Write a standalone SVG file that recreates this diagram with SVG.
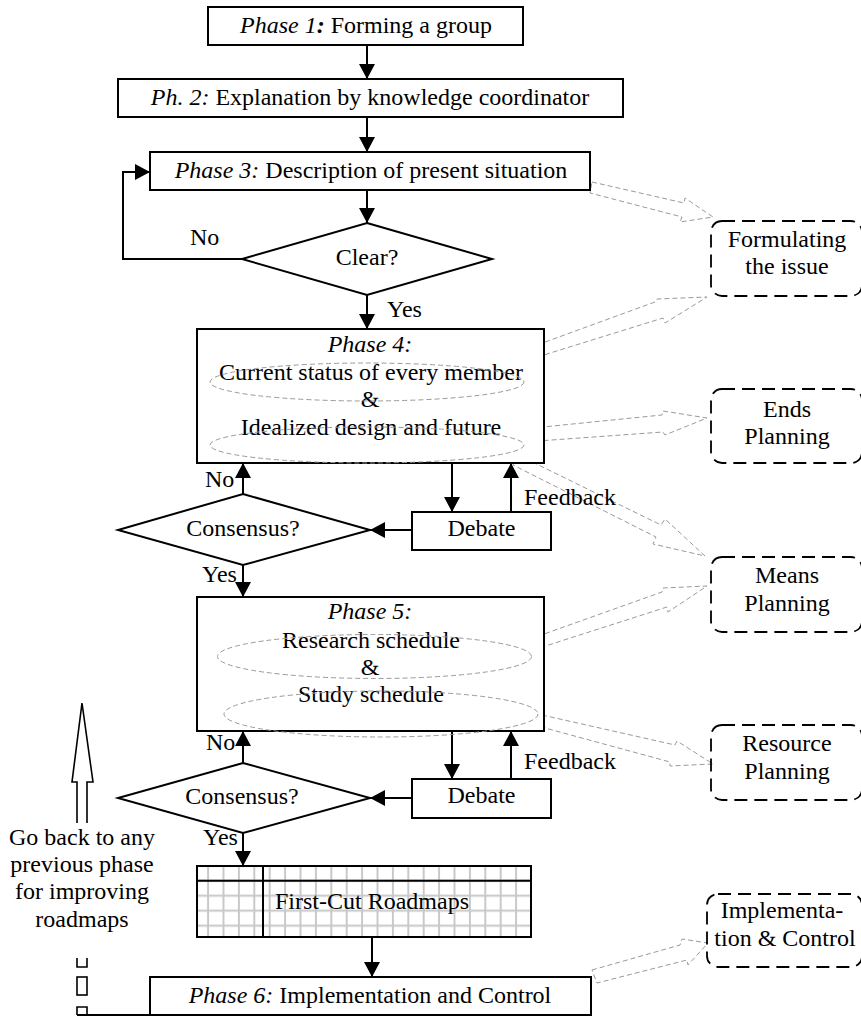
<svg xmlns="http://www.w3.org/2000/svg" width="861" height="1016" viewBox="0 0 861 1016">
<style>
.box{fill:#fff;stroke:#000;stroke-width:2}
.t{font-family:"Liberation Serif","Times New Roman",serif;font-size:24px;fill:#000}
.m{text-anchor:middle}
.i{font-style:italic}
.conn{stroke:#000;stroke-width:2;fill:none}
.ell{fill:none;stroke:#9a9a9a;stroke-width:1;stroke-dasharray:5 3}
.ha{fill:none;stroke:#9a9a9a;stroke-width:1;stroke-dasharray:5 3}
.db{fill:none;stroke:#000;stroke-width:1.8;stroke-dasharray:13 7}
.hollow{fill:none;stroke:#000;stroke-width:1.6}
</style>
<defs>
<marker id="ah" markerUnits="userSpaceOnUse" markerWidth="16" markerHeight="16" refX="15" refY="8" orient="auto">
<path d="M0,0 L15,8 L0,16 Z" fill="#000"/>
</marker>
<pattern id="grid" x="200.4" y="888.2" width="15.4" height="15" patternUnits="userSpaceOnUse">
<path d="M7.7,0V15M0,7.5H15.4" stroke="#c8c8c8" stroke-width="2" fill="none"/>
</pattern>
</defs>

<g id="connectors">
<path class="conn" marker-end="url(#ah)" d="M367,45V79"/>
<path class="conn" marker-end="url(#ah)" d="M367,117V152"/>
<path class="conn" marker-end="url(#ah)" d="M367,190V223"/>
<path class="conn" marker-end="url(#ah)" d="M242,259H123V172H150"/>
<path class="conn" marker-end="url(#ah)" d="M367,295V329"/>
<path class="conn" marker-end="url(#ah)" d="M452,463V512"/>
<path class="conn" marker-end="url(#ah)" d="M511,512V463"/>
<path class="conn" marker-end="url(#ah)" d="M412,530H370"/>
<path class="conn" marker-end="url(#ah)" d="M243,494V463"/>
<path class="conn" marker-end="url(#ah)" d="M243,565V597"/>
<path class="conn" marker-end="url(#ah)" d="M452,731V779"/>
<path class="conn" marker-end="url(#ah)" d="M511,779V731"/>
<path class="conn" marker-end="url(#ah)" d="M412,798H370"/>
<path class="conn" marker-end="url(#ah)" d="M243,763V731"/>
<path class="conn" marker-end="url(#ah)" d="M243,833V866"/>
<path class="conn" marker-end="url(#ah)" d="M372,937V977"/>
<!-- hollow block arrows (dashed grey) -->
<polygon class="ha" points="592,182 684,203 685,198 713,217 680,222 682,217 590,193"/>
<polygon class="ha" points="515,353 655,302 657,299 707,297 665,323 663,318 518,363"/>
<polygon class="ha" points="523,429 662,415 663,411 707,418 665,435 663,432 524,442"/>
<polygon class="ha" points="518,455 661,525 665,519 705,556 653,544 656,537 513,465"/>
<polygon class="ha" points="530,639 662,592 663,588 707,586 668,612 667,607 533,650"/>
<polygon class="ha" points="542,715 675,745 677,741 713,764 670,766 670,762 545,728"/>
<polygon class="ha" points="592,970 680,945 682,939 708,943 688,965 687,960 597,983"/>
<!-- go back arrow -->
<path class="hollow" d="M77,823V782H72L82,703L93,782H87V823"/>
<path class="hollow" d="M77,958V967H87V958"/>
<rect class="hollow" x="77" y="977" width="10" height="18"/>
<path class="hollow" d="M77,1015V1007H87V1015"/>
<path class="conn" d="M77,1015H150"/>
</g>

<g id="phase1">
<rect class="box" x="208" y="7" width="315" height="38"/>
<text class="t m" x="366" y="33"><tspan class="i">Phase 1<tspan font-weight="bold">:</tspan></tspan> Forming a group</text>
</g>
<g id="phase2">
<rect class="box" x="118" y="79" width="505" height="38"/>
<text class="t m" x="370" y="105"><tspan class="i">Ph. 2:</tspan> Explanation by knowledge coordinator</text>
</g>
<g id="phase3">
<rect class="box" x="150" y="152" width="440" height="38"/>
<text class="t m" x="371" y="178"><tspan class="i">Phase 3:</tspan> Description of present situation</text>
</g>
<g id="clear">
<polygon class="box" points="367,223 492,259 367,295 242,259"/>
<text class="t m" x="367" y="265">Clear?</text>
<text class="t" x="190" y="245">No</text>
<text class="t" x="387" y="317">Yes</text>
</g>
<g id="phase4">
<rect class="box" x="197" y="329" width="347" height="134"/>
<text class="t m i" x="370" y="352">Phase 4:</text>
<text class="t m" x="371" y="380">Current status of every member</text>
<text class="t m" x="370" y="407">&amp;</text>
<text class="t m" x="371" y="435">Idealized design and future</text>
<ellipse class="ell" cx="367" cy="382" rx="157" ry="19"/>
<ellipse class="ell" cx="367" cy="445" rx="157" ry="18"/>
</g>
<g id="consensus1">
<polygon class="box" points="243,494 370,530 243,565 118,530"/>
<text class="t m" x="243" y="536">Consensus?</text>
<text class="t" x="205" y="487">No</text>
<text class="t" x="202" y="582">Yes</text>
</g>
<g id="debate1">
<rect class="box" x="412" y="512" width="139" height="38"/>
<text class="t m" x="481.5" y="536">Debate</text>
<text class="t" x="524" y="505">Feedback</text>
</g>
<g id="phase5">
<rect class="box" x="197" y="597" width="347" height="134"/>
<text class="t m i" x="370" y="619">Phase 5:</text>
<text class="t m" x="371" y="648">Research schedule</text>
<text class="t m" x="370" y="675">&amp;</text>
<text class="t m" x="371" y="702">Study schedule</text>
<ellipse class="ell" cx="374.5" cy="656.5" rx="157" ry="22"/>
<ellipse class="ell" cx="381" cy="714" rx="157" ry="23"/>
</g>
<g id="consensus2">
<polygon class="box" points="243,763 370,798 243,833 118,798"/>
<text class="t m" x="242" y="804">Consensus?</text>
<text class="t" x="206" y="750">No</text>
<text class="t" x="203" y="845">Yes</text>
</g>
<g id="debate2">
<rect class="box" x="412" y="779" width="139" height="39"/>
<text class="t m" x="481.5" y="803">Debate</text>
<text class="t" x="524" y="769">Feedback</text>
</g>
<g id="roadmaps">
<rect x="197" y="866" width="334" height="71" fill="url(#grid)"/>
<path class="conn" d="M197,880.7H531M263,866V937"/>
<rect x="197" y="866" width="334" height="71" fill="none" stroke="#000" stroke-width="2"/>
<text class="t m" x="372" y="909">First-Cut Roadmaps</text>
</g>
<g id="phase6">
<rect class="box" x="150" y="977" width="441" height="38"/>
<text class="t m" x="370" y="1003"><tspan class="i">Phase 6:</tspan> Implementation and Control</text>
</g>
<g id="goback">
<text class="t m" x="82" y="845">Go back to any</text>
<text class="t m" x="82" y="872">previous phase</text>
<text class="t m" x="82" y="899">for improving</text>
<text class="t m" x="82" y="927">roadmaps</text>
</g>
<g id="formulating">
<rect class="db" x="711" y="221" width="151" height="75" rx="11"/>
<text class="t m" x="787" y="247">Formulating</text>
<text class="t m" x="787" y="274">the issue</text>
</g>
<g id="ends">
<rect class="db" x="711" y="389" width="151" height="74" rx="11"/>
<text class="t m" x="787" y="417">Ends</text>
<text class="t m" x="787" y="444">Planning</text>
</g>
<g id="means">
<rect class="db" x="711" y="557" width="151" height="75" rx="11"/>
<text class="t m" x="787" y="583">Means</text>
<text class="t m" x="787" y="611">Planning</text>
</g>
<g id="resource">
<rect class="db" x="711" y="725" width="151" height="75" rx="11"/>
<text class="t m" x="787" y="751">Resource</text>
<text class="t m" x="787" y="779">Planning</text>
</g>
<g id="implementation">
<rect class="db" x="707" y="894" width="155" height="73" rx="11"/>
<text class="t m" x="782" y="918">Implementa-</text>
<text class="t m" x="785" y="946">tion &amp; Control</text>
</g>
</svg>
